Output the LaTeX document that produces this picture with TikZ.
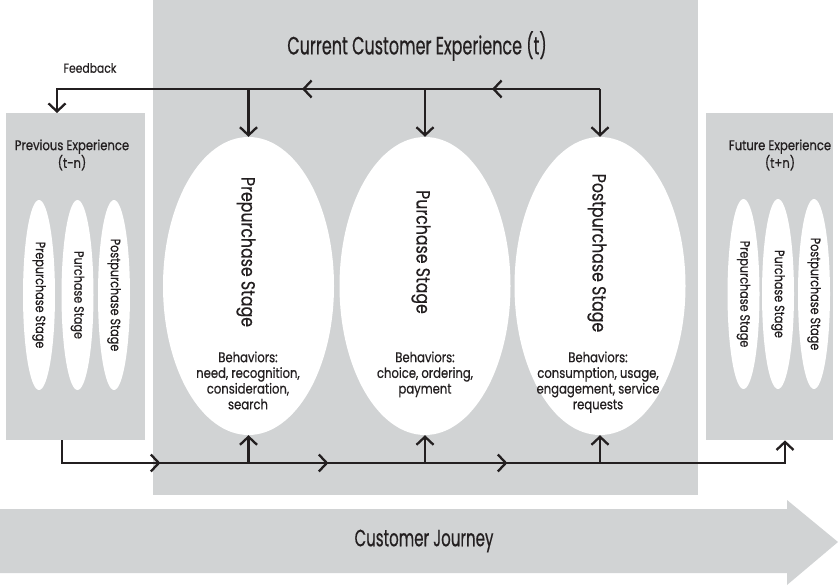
\documentclass[tikz,border=0pt]{standalone}
\usepackage{fontspec}
\setmainfont{Poppins}[FakeStretch=0.83,FakeBold=0.5]
\newfontfamily\condfont{Poppins}[FakeStretch=0.64,FakeBold=0.5]
\usetikzlibrary{shapes.geometric,arrows.meta,decorations.markings}
\definecolor{boxgray}{HTML}{D1D3D4}
\definecolor{ink}{HTML}{231F20}
\tikzset{
  >={Straight Barb[length=8pt,width=17pt]},
  conn/.style={draw=ink,line width=2.3pt},
  graybox/.style={fill=boxgray,draw=none},
  bigell/.style={ellipse,fill=white,draw=none,minimum width=171pt,minimum height=298pt,inner sep=0pt},
  smallell/.style={ellipse,fill=white,draw=none,minimum width=32pt,minimum height=190pt,inner sep=0pt},
  bigtitle/.style={text=ink,font=\condfont\fontsize{25}{28}\selectfont},
  vtitle/.style={text=ink,rotate=-90,font=\fontsize{19}{22}\selectfont},
  vsmall/.style={text=ink,rotate=-90,font=\fontsize{13.5}{16}\selectfont},
  behav/.style={text=ink,align=center,font=\fontsize{14}{15.7}\selectfont},
  boxtitle/.style={text=ink,align=center,font=\fontsize{14}{15.5}\selectfont},
}
\begin{document}
\begin{tikzpicture}[x=1pt,y=-1pt]
\useasboundingbox (0,0) rectangle (838,588);
% boxes
\node[graybox,minimum width=545pt,minimum height=495pt,inner sep=0pt,anchor=north west] (cur) at (153,0) {};
\node[graybox,minimum width=139pt,minimum height=327pt,inner sep=0pt,anchor=north west] (prev) at (6,113) {};
\node[graybox,minimum width=127pt,minimum height=327pt,inner sep=0pt,anchor=north west] (fut) at (706,113) {};
% journey arrow
\fill[boxgray] (0,509) -- (787,509) -- (787,500) -- (838,542) -- (787,585) -- (787,573) -- (0,573) -- cycle;
\node[bigtitle,font=\condfont\fontsize{23.5}{26}\selectfont] (journey) at (424,541) {Customer Journey};
% titles
\node[bigtitle] (curtitle) at (417,46) {Current Customer Experience (t)};
\node[boxtitle] (prevtitle) at (72,155) {Previous Experience\\(t-n)};
\node[boxtitle] (futtitle) at (780,155) {Future Experience\\(t+n)};
\node[text=ink,font=\fontsize{13}{15}\selectfont] (fb) at (90,68) {Feedback};
% big ellipses
\node[bigell] (e1) at (248.5,286) {};
\node[bigell] (e2) at (425,286) {};
\node[bigell] (e3) at (600,286) {};
\node[vtitle] (t1) at (246,252) {Prepurchase Stage};
\node[vtitle] (t2) at (421,252) {Purchase Stage};
\node[vtitle] (t3) at (597,253) {Postpurchase Stage};
\node[behav,anchor=north] (b1) at (248,348) {Behaviors:\\need, recognition,\\consideration,\\search};
\node[behav,anchor=north] (b2) at (425,348) {Behaviors:\\choice, ordering,\\payment};
\node[behav,anchor=north] (b3) at (598,348) {Behaviors:\\consumption, usage,\\engagement, service\\requests};
% small ellipses
\node[smallell] (p1) at (39,295) {};
\node[smallell] (p2) at (77.5,295) {};
\node[smallell] (p3) at (114,295) {};
\node[vsmall] at (p1) {Prepurchase Stage};
\node[vsmall] at (p2) {Purchase Stage};
\node[vsmall] at (p3) {Postpurchase Stage};
\node[smallell] (f1) at (743.5,294) {};
\node[smallell] (f2) at (778,294) {};
\node[smallell] (f3) at (814,294) {};
\node[vsmall] at (f1) {Prepurchase Stage};
\node[vsmall] at (f2) {Purchase Stage};
\node[vsmall] at (f3) {Postpurchase Stage};
% connectors
\coordinate (tr) at (600,89);
\coordinate (tl) at (57,89);
\coordinate (bl) at (62,463);
\coordinate (br) at (785,463);
\draw[conn,->,decoration={markings,
   mark=at position 108pt with {\arrow{>}},
   mark=at position 298pt with {\arrow{>}}},postaction={decorate}]
   (tr) -- (tl) -- (tl |- prev.north);
\draw[conn,->] (tr) -- (e3.north);
\draw[conn,->] (e1.north |- tr) -- (e1.north);
\draw[conn,->] (e2.north |- tr) -- (e2.north);
\draw[conn,->,decoration={markings,
   mark=at position 121pt with {\arrow{>}},
   mark=at position 289pt with {\arrow{>}},
   mark=at position 468pt with {\arrow{>}}},postaction={decorate}]
   (bl |- prev.south) -- (bl) -- (br) -- (br |- fut.south);
\draw[conn,->] (e1.south |- bl) -- (e1.south);
\draw[conn,->] (e2.south |- bl) -- (e2.south);
\draw[conn,->] (e3.south |- bl) -- (e3.south);
\end{tikzpicture}
\end{document}
